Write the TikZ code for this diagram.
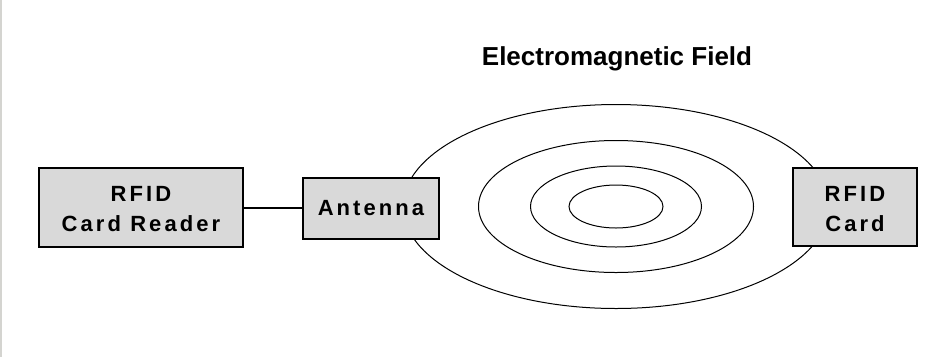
\documentclass[tikz,border=0pt]{standalone}
\usepackage{fontspec}
\setmainfont{Liberation Sans}
\newfontfamily\spacedfont[LetterSpace=14]{Liberation Sans}
\usetikzlibrary{positioning}
\definecolor{boxgray}{HTML}{D9D9D9}
\definecolor{edgegray}{HTML}{D4D4D0}

\begin{document}
\begin{tikzpicture}[
  x=1pt, y=-1pt,
  block/.style={draw, line width=2pt, fill=boxgray, inner sep=0pt, align=center,
    font=\spacedfont\bfseries\fontsize{22}{30}\selectfont},
  twoline/.style={text height=48pt, text depth=0pt},
  ring/.style={line width=1pt}
]
  \useasboundingbox (0,0) rectangle (944,357);
  \draw[edgegray, line width=1.5pt] (0.75,0) -- (0.75,357);

  % field lines round the antenna
  \coordinate (field) at (616,206.5);
  \foreach \rx/\ry in {213/102, 137.5/66, 85.5/40.5, 47/21.5}
    \draw[ring] (field) ellipse [x radius=\rx pt, y radius=\ry pt];
  \node[anchor=base, font=\bfseries\fontsize{26}{30}\selectfont] (title) at (617,65) {Electromagnetic Field};

  \node[block, twoline, minimum width=204pt, minimum height=79pt] (reader) at (141,207.5) {RFID\\Card Reader};
  \node[block, minimum width=136pt, minimum height=61pt] (antenna) at (371,208.5) {Antenna};
  \node[block, twoline, minimum width=124pt, minimum height=78pt] (card) at (855,207) {RFID\\Card};

  \draw[line width=2pt] (reader.east) -- (reader.east -| antenna.west);
\end{tikzpicture}
\end{document}
